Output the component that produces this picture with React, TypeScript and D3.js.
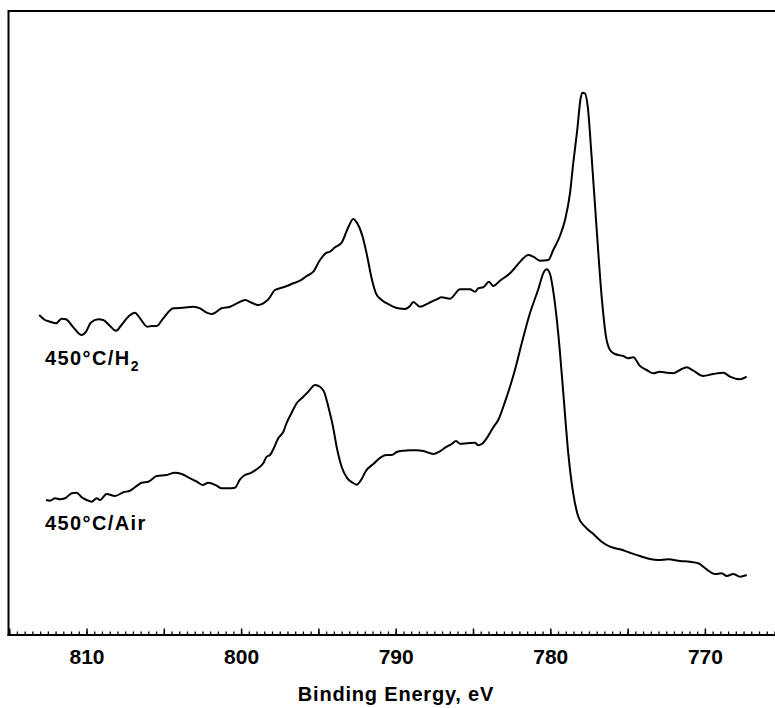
import React from "react";
import * as d3 from "d3";

// Binding energy (eV) and intensity (arbitrary units)
const h2Energy = [813.09,812.72,812.39,812.0,811.64,811.36,810.89,810.34,810.06,809.76,809.27,808.95,808.51,808.12,807.82,807.33,806.9,806.57,806.1,805.82,805.49,805.07,804.42,803.77,803.12,802.69,802.26,801.93,801.29,800.75,800.21,799.78,799.35,798.92,798.6,798.27,797.84,797.52,797.08,796.66,796.22,795.79,795.36,794.93,794.5,794.28,793.96,793.53,793.1,792.78,792.52,792.17,791.87,791.59,791.31,790.94,790.4,789.87,789.43,789.11,788.9,788.46,787.93,787.38,787.06,786.52,785.87,785.23,784.9,784.69,784.37,784.0,783.72,783.29,782.64,782.04,781.78,781.46,781.13,780.7,780.16,779.84,779.41,779.08,778.76,778.55,778.29,778.07,777.96,777.79,777.61,777.36,777.03,776.71,776.43,776.17,775.85,775.31,774.99,774.67,774.23,773.8,773.37,772.94,772.51,772.08,771.64,771.21,770.78,770.14,769.49,768.84,768.41,767.76,767.33];
const h2Intensity = [320,315,313.3,311.7,316.3,315.7,307.7,300,303.3,312.3,315.7,315,309,304.3,309,318.3,322.3,316.7,308.3,309,309,316.7,326.7,327.3,328.3,326.7,322.3,321,326.7,328.3,332.3,335,332.3,330,331.7,335.7,345,346.7,349,351.7,354.3,359,363.3,375,382.3,383.3,387.7,392.3,407.7,416,411.7,398.3,378.3,356.7,341.7,335,330,326.7,326,329,333,328.3,331.7,335.7,337.7,336.3,345.7,345.7,343.3,346.7,347.7,353.3,349,354.3,361.7,372.3,376.7,380,378.3,374.3,375,385,399,415,441.7,471.7,505,536.7,542.3,541.7,528.3,478.3,405,338.3,298.3,285,281,279,276.7,277.7,269,265,261.7,263.3,262.3,261.7,265,267.7,264.3,259,261,262.3,258.3,255.7,258.3];

const airEnergy = [812.65,812.39,812.07,811.75,811.42,810.99,810.67,810.34,810.02,809.7,809.37,809.16,808.73,808.19,807.65,807.22,806.46,806.04,805.49,804.85,804.31,803.88,803.45,802.9,802.52,802.15,801.61,801.29,800.86,800.43,800.1,799.78,799.46,799.02,798.6,798.38,798.16,797.95,797.63,797.3,797.08,796.76,796.44,796.01,795.69,795.25,794.93,794.67,794.39,794.11,793.81,793.53,793.16,792.81,792.56,792.3,791.95,791.48,791.0,790.62,790.29,789.97,789.54,789.11,788.68,788.25,787.6,787.17,786.73,786.41,786.13,785.87,785.44,784.9,784.69,784.47,784.15,783.72,783.4,782.96,782.64,782.32,781.88,781.35,780.81,780.44,780.27,780.05,779.79,779.52,779.19,778.87,778.55,778.22,777.79,777.25,776.71,776.17,775.53,774.88,774.23,773.59,773.05,772.4,771.64,771.0,770.46,769.92,769.38,768.95,768.62,768.2,767.76,767.33];
const airIntensity = [135,134.3,136.7,135.7,136.7,141.7,142.3,137.7,135,133.3,136.7,135,141,139,142.7,144.3,152.3,153.3,159,160,162.3,161,157.7,153.3,150,152.3,149.3,146.7,146.7,147.3,155.7,160,161.7,165.7,171.7,178.3,180,185.7,196.7,203.3,212.3,222.3,231.7,238.3,243.3,250,248.3,243.3,228.3,210,185,168.3,156.7,152.3,150.3,154.3,164.3,171,177.7,180,180,183,184.3,184.7,184.7,184,181,183.7,188.3,191,194,191.3,191.7,192.3,189.7,191,196.7,207.7,215,233.3,248.3,265,291.7,321.7,345.7,363.3,365.7,361,338.3,301.7,241.7,181.7,141.7,118.3,108.3,101,93.3,88.3,85.7,82.3,79,76,75,75.7,74,73.3,71.7,65.7,61,61.7,59,61,58.3,60];

const majorTicks = [815, 810, 805, 800, 795, 790, 785, 780, 775, 770];
const tickLabels = [810, 800, 790, 780, 770];
const xTitle = "Binding Energy, eV";
const seriesLabels = ["450°C/H", "450°C/Air"];

const W = 775;
const H = 708;
const left = 8.5;
const top = 11;
const bottom = 635;

export default function App() {
  const x = d3.scaleLinear().domain([810, 770]).range([87, 705.4]);
  const y = d3.scaleLinear().domain([0, 624]).range([bottom, top]);
  const xMax = x.invert(W);
  const minorTicks = d3.range(815, xMax, -0.5).filter((v) => x(v) >= left + 1);

  const line = d3
    .line<[number, number]>()
    .x((d) => x(d[0]))
    .y((d) => y(d[1]))
    .curve(d3.curveMonotoneX);

  const h2 = h2Energy.map((e, i) => [e, h2Intensity[i]] as [number, number]);
  const air = airEnergy.map((e, i) => [e, airIntensity[i]] as [number, number]);

  const font = "'Liberation Sans', Arial, Helvetica, sans-serif";

  return (
    <div style={{ position: "absolute", left: 0, top: 0 }}>
      <svg width={W} height={H} style={{ display: "block", background: "#fff" }}>
        <rect x={0} y={0} width={W} height={H} fill="#fff" />
        {/* frame */}
        <line x1={left} x2={W} y1={top} y2={top} stroke="#000" strokeWidth={2} />
        <line x1={left} x2={left} y1={top - 1} y2={bottom + 1} stroke="#000" strokeWidth={2} />
        <line x1={left - 1} x2={W} y1={bottom} y2={bottom} stroke="#000" strokeWidth={2} />
        {/* ticks */}
        {minorTicks.map((v) => (
          <line key={"m" + v} x1={x(v)} x2={x(v)} y1={bottom} y2={bottom - 3.5} stroke="#000" strokeWidth={1.3} />
        ))}
        {majorTicks.map((v) => (
          <line key={"M" + v} x1={x(v)} x2={x(v)} y1={bottom} y2={bottom - 6.5} stroke="#000" strokeWidth={1.5} />
        ))}
        {tickLabels.map((v) => (
          <text key={"t" + v} x={x(v)} y={664} textAnchor="middle" fontFamily={font} fontWeight="bold" fontSize={21} fill="#000">
            {v}
          </text>
        ))}
        <text x={396} y={701} textAnchor="middle" fontFamily={font} fontWeight="bold" fontSize={20} letterSpacing={0.8} fill="#000">
          {xTitle}
        </text>
        {/* curves */}
        <path d={line(h2) || ""} fill="none" stroke="#000" strokeWidth={2} strokeLinejoin="round" />
        <path d={line(air) || ""} fill="none" stroke="#000" strokeWidth={2} strokeLinejoin="round" />
        {/* series labels */}
        <text x={45} y={365} fontFamily={font} fontWeight="bold" fontSize={20} letterSpacing={1.4} fill="#000">
          {seriesLabels[0]}
          <tspan fontSize={14} dy={6} letterSpacing={0}>2</tspan>
        </text>
        <text x={45} y={530} fontFamily={font} fontWeight="bold" fontSize={20} letterSpacing={1.4} fill="#000">
          {seriesLabels[1]}
        </text>
      </svg>
    </div>
  );
}
